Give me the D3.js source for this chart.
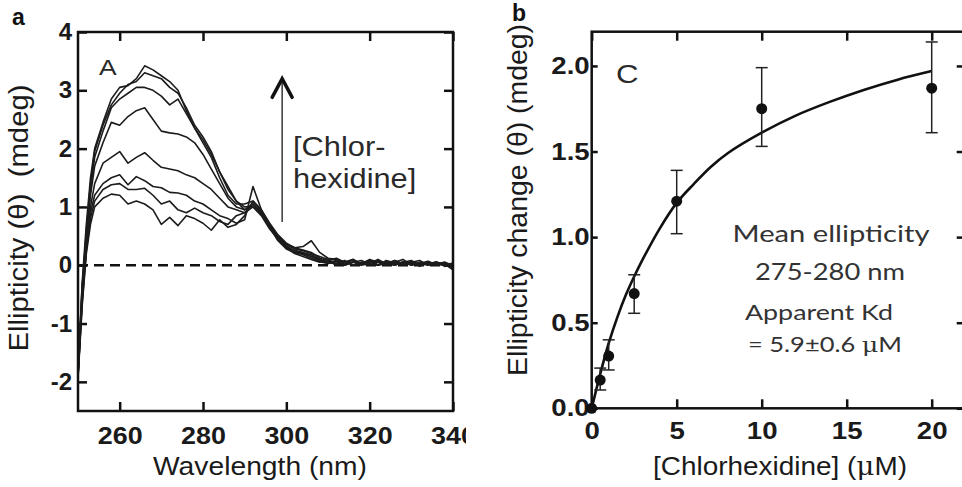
<!DOCTYPE html>
<html>
<head>
<meta charset="utf-8">
<script src="https://cdn.jsdelivr.net/npm/d3@7"></script>
<style>
  body { margin: 0; background: #fff; }
  svg { display: block; }
</style>
</head>
<body>
<div id="chart"></div>
<script>
// ---- panel a : CD spectra at increasing chlorhexidine ----
var wavelengths = [250, 251, 252, 253, 254, 256, 258, 260, 262, 264, 266, 268, 270, 272, 274,
  276, 278, 280, 282, 284, 286, 288, 290, 292, 294, 296, 298, 300, 302, 304, 306, 308, 310,
  312, 314, 316, 318, 320, 322, 324, 326, 328, 330, 332, 334, 336, 338, 340];

var spec1 = [-1.85, -0.3, 0.7, 1.5, 2.0, 2.45, 2.85, 3.05, 3.08, 3.2, 3.42, 3.35, 3.25, 3.15, 3.0,
  2.65, 2.35, 2.1, 1.85, 1.5, 1.2, 1.05, 1.05, 1.1, 0.95, 0.72, 0.52, 0.38, 0.3, 0.32, 0.42, 0.22, 0.12,
  0.1, 0.05, 0.08, 0.02, 0.1, 0.05, 0.0, 0.08, 0.03, 0.06, -0.02, 0.05, 0.0, 0.04, -0.05];
var spec2 = [-1.9, -0.4, 0.6, 1.4, 1.95, 2.4, 2.75, 2.95, 3.1, 3.15, 3.3, 3.25, 3.2, 3.05, 2.95,
  2.7, 2.4, 2.2, 1.95, 1.6, 1.3, 1.1, 1.0, 1.0, 0.9, 0.7, 0.5, 0.35, 0.28, 0.25, 0.2, 0.15, 0.1,
  0.02, 0.08, 0.0, 0.05, 0.03, 0.1, 0.02, 0.05, 0.1, 0.0, 0.05, 0.02, 0.06, -0.02, 0.02];
var spec3 = [-1.85, -0.35, 0.5, 1.3, 1.85, 2.3, 2.7, 2.85, 2.95, 3.05, 3.05, 3.0, 2.9, 2.75, 2.85,
  2.6, 2.35, 2.15, 1.9, 1.6, 1.35, 1.1, 0.95, 1.05, 0.9, 0.68, 0.48, 0.36, 0.3, 0.26, 0.22, 0.12, 0.08,
  0.12, 0.05, 0.1, 0.02, 0.06, 0.0, 0.08, 0.04, 0.0, 0.05, 0.08, 0.0, 0.03, 0.05, 0.0];
var spec4 = [-1.85, -0.45, 0.45, 1.2, 1.7, 2.1, 2.45, 2.4, 2.55, 2.65, 2.7, 2.5, 2.3, 2.27, 2.25,
  2.2, 2.1, 1.9, 1.65, 1.4, 1.15, 1.0, 0.95, 1.05, 0.88, 0.65, 0.45, 0.32, 0.25, 0.22, 0.18, 0.1, 0.05,
  0.08, 0.02, 0.06, 0.0, 0.04, 0.08, 0.0, 0.05, 0.02, 0.06, 0.0, 0.04, 0.01, 0.05, -0.03];
var spec5 = [-1.9, -0.55, 0.35, 1.0, 1.4, 1.75, 1.85, 1.95, 1.75, 1.85, 1.93, 1.8, 1.68, 1.65, 1.62,
  1.55, 1.5, 1.4, 1.3, 1.15, 1.0, 0.95, 0.9, 1.0, 0.85, 0.62, 0.45, 0.3, 0.22, 0.2, 0.15, 0.08, 0.05,
  0.02, 0.06, 0.0, 0.04, 0.08, 0.01, 0.05, 0.0, 0.06, 0.02, 0.04, 0.0, 0.05, 0.02, 0.0];
var spec6 = [-1.9, -0.6, 0.3, 0.9, 1.2, 1.4, 1.5, 1.55, 1.38, 1.52, 1.45, 1.35, 1.33, 1.25, 1.24,
  1.2, 1.1, 1.05, 0.95, 0.85, 0.8, 0.72, 0.78, 1.35, 0.95, 0.65, 0.42, 0.28, 0.22, 0.18, 0.12, 0.06, 0.03,
  0.07, 0.0, 0.05, 0.02, 0.07, 0.0, 0.03, 0.08, 0.0, 0.04, 0.0, 0.06, 0.02, 0.0, 0.04];
var spec7 = [-1.9, -0.65, 0.25, 0.8, 1.1, 1.3, 1.38, 1.4, 1.3, 1.3, 1.32, 1.2, 1.05, 1.1, 0.95,
  0.9, 0.98, 0.9, 0.85, 0.75, 0.7, 0.85, 0.9, 1.05, 0.92, 0.68, 0.45, 0.3, 0.2, 0.15, 0.1, 0.05, 0.08,
  0.0, 0.05, 0.1, 0.02, 0.0, 0.06, 0.03, 0.0, 0.05, 0.08, 0.0, 0.02, 0.05, 0.0, -0.04];
var spec8 = [-1.95, -0.7, 0.2, 0.7, 1.0, 1.15, 1.22, 1.2, 1.05, 1.1, 1.05, 0.95, 0.7, 0.82, 0.68,
  0.85, 0.8, 0.72, 0.6, 0.78, 0.65, 0.7, 0.85, 1.1, 0.95, 0.7, 0.48, 0.32, 0.25, 0.2, 0.15, 0.1, 0.03,
  0.06, 0.0, 0.05, 0.08, 0.02, 0.0, 0.06, 0.02, 0.05, 0.0, 0.03, 0.07, 0.0, 0.02, -0.08];
var spectra = [spec8, spec7, spec6, spec5, spec4, spec3, spec2, spec1];

var ticksAx = [260, 280, 300, 320, 340];
var ticksAy = [-2, -1, 0, 1, 2, 3, 4];

// ---- panel b : titration, mean ellipticity 275-280 nm ----
var conc = [0, 0.5, 1, 2.5, 5, 10, 20];
var meanEllip = [0, 0.165, 0.305, 0.67, 1.21, 1.75, 1.87];
var errLow = [0, 0.107, 0.224, 0.555, 1.02, 1.53, 1.61];
var errHigh = [0, 0.235, 0.40, 0.78, 1.39, 1.99, 2.14];
var fitConc = [0, 0.5, 1, 1.5, 2, 2.5, 3, 4, 5, 6, 7, 8, 10, 12, 14, 16, 18, 20];
var fitEllip = [0, 0.2, 0.38, 0.53, 0.66, 0.77, 0.87, 1.05, 1.2, 1.31, 1.41, 1.49, 1.61, 1.71, 1.79, 1.86, 1.92, 1.97];

var ticksBx = [0, 5, 10, 15, 20];
var ticksBy = [0, 0.5, 1.0, 1.5, 2.0];

var FONT = "'Liberation Sans', Arial, Helvetica, sans-serif";
var INK = "#111";

var svg = d3.select("#chart").append("svg")
  .attr("width", 962)
  .attr("height", 487);

svg.append("defs").append("clipPath").attr("id", "clipA")
  .append("rect").attr("x", 0).attr("y", 0).attr("width", 466).attr("height", 487);

// widen glyphs a bit, the source figure is slightly stretched
function widen(sel, f) {
  sel.each(function() {
    var w = this.getComputedTextLength();
    d3.select(this).attr("textLength", w * f).attr("lengthAdjust", "spacingAndGlyphs");
  });
}

function styleAxis(g, size, f) {
  g.select(".domain").remove();
  g.selectAll(".tick line").attr("stroke", INK).attr("stroke-width", 2.5);
  g.selectAll(".tick text")
    .attr("fill", "#1a1a1a")
    .attr("font-family", FONT)
    .attr("font-weight", "bold")
    .attr("font-size", size);
  if (f) widen(g.selectAll(".tick text"), f);
}

// ================= panel a =================
var gA = svg.append("g").attr("clip-path", "url(#clipA)");

var xA = d3.scaleLinear().domain([250, 340]).range([78, 453]);
var yA = d3.scaleLinear().domain([-2.5, 4]).range([411, 32]);

gA.append("g")
  .attr("transform", "translate(0,411)")
  .call(d3.axisBottom(xA).tickValues(ticksAx).tickSizeInner(-9).tickSizeOuter(0).tickPadding(16))
  .call(g => styleAxis(g, 24, 1.12));

gA.append("g")
  .attr("transform", "translate(0,32)")
  .call(d3.axisTop(xA).tickValues(ticksAx).tickSizeInner(-9).tickSizeOuter(0).tickFormat(""))
  .call(g => styleAxis(g, 24));

gA.append("g")
  .attr("transform", "translate(78,0)")
  .call(d3.axisLeft(yA).tickValues(ticksAy).tickSizeInner(-9).tickSizeOuter(0).tickPadding(6)
    .tickFormat(d => String(d)))
  .call(g => styleAxis(g, 24));

gA.append("g")
  .attr("transform", "translate(453,0)")
  .call(d3.axisRight(yA).tickValues(ticksAy).tickSizeInner(-9).tickSizeOuter(0).tickFormat(""))
  .call(g => styleAxis(g, 24));

// zero line
gA.append("line")
  .attr("x1", xA(250)).attr("x2", xA(340))
  .attr("y1", yA(0)).attr("y2", yA(0))
  .attr("stroke", INK)
  .attr("stroke-width", 2.5)
  .attr("stroke-dasharray", "10,6");

var specLine = d3.line()
  .x((d, i) => xA(wavelengths[i]))
  .y(d => yA(d));

gA.selectAll("path.spec")
  .data(spectra)
  .join("path")
  .attr("class", "spec")
  .attr("d", specLine)
  .attr("fill", "none")
  .attr("stroke", "#1c1c1c")
  .attr("stroke-width", 1.6)
  .attr("stroke-linejoin", "round");

// frame
gA.append("rect")
  .attr("x", xA(250)).attr("y", yA(4))
  .attr("width", xA(340) - xA(250)).attr("height", yA(-2.5) - yA(4))
  .attr("fill", "none").attr("stroke", INK).attr("stroke-width", 2.5);

// arrow
gA.append("line")
  .attr("x1", xA(299)).attr("x2", xA(299))
  .attr("y1", yA(0.74)).attr("y2", yA(3.18))
  .attr("stroke", "#444").attr("stroke-width", 1.6);
gA.append("path")
  .attr("d", "M" + (xA(299) - 10) + "," + yA(2.88) + "L" + xA(299) + "," + yA(3.2) + "L" + (xA(299) + 10) + "," + yA(2.88))
  .attr("fill", "none").attr("stroke", "#111").attr("stroke-width", 3.5)
  .attr("stroke-linecap", "round").attr("stroke-linejoin", "miter");

gA.append("text")
  .attr("x", 293).attr("y", 156)
  .attr("font-family", FONT).attr("font-size", 28).attr("fill", "#2a2a2a")
  .text("[Chlor-")
  .call(t => widen(t, 1.1));
gA.append("text")
  .attr("x", 293).attr("y", 188)
  .attr("font-family", FONT).attr("font-size", 28).attr("fill", "#2a2a2a")
  .text("hexidine]")
  .call(t => widen(t, 1.1));

gA.append("text")
  .attr("x", 99).attr("y", 75)
  .attr("font-family", FONT).attr("font-size", 22).attr("fill", "#2a2a2a")
  .text("A")
  .call(t => widen(t, 1.2));

gA.append("text")
  .attr("x", 260).attr("y", 475)
  .attr("text-anchor", "middle")
  .attr("font-family", FONT).attr("font-size", 26).attr("fill", "#1a1a1a")
  .attr("textLength", 214).attr("lengthAdjust", "spacingAndGlyphs")
  .text("Wavelength (nm)");

gA.append("text")
  .attr("transform", "translate(28,218) rotate(-90)")
  .attr("text-anchor", "middle")
  .style("white-space", "pre")
  .attr("font-family", FONT).attr("font-size", 27).attr("fill", "#1a1a1a")
  .attr("textLength", 267).attr("lengthAdjust", "spacingAndGlyphs")
  .text("Ellipticity (\u03b8)  (mdeg)");

svg.append("text")
  .attr("x", 12).attr("y", 25)
  .attr("font-family", FONT).attr("font-size", 23).attr("font-weight", "bold").attr("fill", "#111")
  .text("a");

// ================= panel b =================
var gB = svg.append("g");

var xB = d3.scaleLinear().domain([0, 22]).range([591.7, 965.7]);
var yB = d3.scaleLinear().domain([0, 2.2]).range([408.3, 31.7]);

gB.append("g")
  .attr("transform", "translate(0,408.3)")
  .call(d3.axisBottom(xB).tickValues(ticksBx).tickSizeInner(-9).tickSizeOuter(0).tickPadding(14))
  .call(g => styleAxis(g, 24, 1.15));

gB.append("g")
  .attr("transform", "translate(0,31.7)")
  .call(d3.axisTop(xB).tickValues(ticksBx).tickSizeInner(-9).tickSizeOuter(0).tickFormat(""))
  .call(g => styleAxis(g, 24));

gB.append("g")
  .attr("transform", "translate(591.7,0)")
  .call(d3.axisLeft(yB).tickValues(ticksBy).tickSizeInner(-6).tickSizeOuter(0).tickPadding(2).tickFormat(d3.format(".1f")))
  .call(g => styleAxis(g, 24, 1.15));

gB.append("g")
  .attr("transform", "translate(965.7,0)")
  .call(d3.axisRight(yB).tickValues(ticksBy).tickSizeInner(-9).tickSizeOuter(0).tickFormat(""))
  .call(g => styleAxis(g, 24));

gB.append("rect")
  .attr("x", xB(0)).attr("y", yB(2.2))
  .attr("width", xB(22) - xB(0)).attr("height", yB(0) - yB(2.2))
  .attr("fill", "none").attr("stroke", INK).attr("stroke-width", 2.5);

// fitted binding curve
var fitLine = d3.line()
  .x((d, i) => xB(fitConc[i]))
  .y(d => yB(d))
  .curve(d3.curveCatmullRom.alpha(0.5));

gB.append("path")
  .attr("d", fitLine(fitEllip))
  .attr("fill", "none")
  .attr("stroke", "#111")
  .attr("stroke-width", 2.6);

// error bars
var bars = gB.selectAll("g.err")
  .data(conc.map((c, i) => i).filter(i => i > 0))
  .join("g")
  .attr("class", "err")
  .attr("stroke", "#222")
  .attr("stroke-width", 1.5);
bars.append("line")
  .attr("x1", i => xB(conc[i])).attr("x2", i => xB(conc[i]))
  .attr("y1", i => yB(errLow[i])).attr("y2", i => yB(errHigh[i]));
bars.append("line")
  .attr("x1", i => xB(conc[i]) - 6).attr("x2", i => xB(conc[i]) + 6)
  .attr("y1", i => yB(errHigh[i])).attr("y2", i => yB(errHigh[i]));
bars.append("line")
  .attr("x1", i => xB(conc[i]) - 6).attr("x2", i => xB(conc[i]) + 6)
  .attr("y1", i => yB(errLow[i])).attr("y2", i => yB(errLow[i]));

gB.selectAll("circle.pt")
  .data(conc)
  .join("circle")
  .attr("class", "pt")
  .attr("cx", d => xB(d))
  .attr("cy", (d, i) => yB(meanEllip[i]))
  .attr("r", 5.5)
  .attr("fill", "#111");

gB.append("text")
  .attr("x", 616).attr("y", 83)
  .attr("font-family", FONT).attr("font-size", 25).attr("fill", "#2a2a2a")
  .text("C")
  .call(t => widen(t, 1.25));

var LATO = "Lato, 'Open Sans', sans-serif";
gB.append("text")
  .attr("x", 831).attr("y", 242).attr("text-anchor", "middle")
  .attr("font-family", LATO).attr("font-size", 24).attr("fill", "#333")
  .attr("textLength", 197).attr("lengthAdjust", "spacingAndGlyphs")
  .text("Mean ellipticity");
gB.append("text")
  .attr("x", 830).attr("y", 280).attr("text-anchor", "middle")
  .attr("font-family", LATO).attr("font-size", 24).attr("fill", "#333")
  .attr("textLength", 150).attr("lengthAdjust", "spacingAndGlyphs")
  .text("275-280 nm");
gB.append("text")
  .attr("x", 745).attr("y", 320)
  .attr("font-family", LATO).attr("font-size", 21).attr("fill", "#333")
  .attr("textLength", 148).attr("lengthAdjust", "spacingAndGlyphs")
  .text("Apparent Kd");
var kd = gB.append("text")
  .attr("x", 748).attr("y", 352)
  .attr("font-family", LATO).attr("font-size", 21).attr("fill", "#333")
  .attr("textLength", 154).attr("lengthAdjust", "spacingAndGlyphs");
kd.append("tspan").text("= 5.9\u00b10.6 ");
kd.append("tspan").attr("font-family", "'DejaVu Serif', serif").text("\u03bc");
kd.append("tspan").text("M");

var xt = gB.append("text")
  .attr("x", 780).attr("y", 475).attr("text-anchor", "middle")
  .attr("font-family", FONT).attr("font-size", 26).attr("fill", "#1a1a1a")
  .attr("textLength", 254).attr("lengthAdjust", "spacingAndGlyphs");
xt.append("tspan").text("[Chlorhexidine] (");
xt.append("tspan").attr("font-family", "'DejaVu Serif', serif").text("\u03bc");
xt.append("tspan").text("M)");

gB.append("text")
  .attr("transform", "translate(527,200) rotate(-90)")
  .attr("text-anchor", "middle")
  .attr("font-family", FONT).attr("font-size", 27).attr("fill", "#1a1a1a")
  .attr("textLength", 352).attr("lengthAdjust", "spacingAndGlyphs")
  .text("Ellipticity change (\u03b8) (mdeg)");

svg.append("text")
  .attr("x", 512).attr("y", 21)
  .attr("font-family", FONT).attr("font-size", 23).attr("font-weight", "bold").attr("fill", "#111")
  .text("b");
</script>
</body>
</html>
